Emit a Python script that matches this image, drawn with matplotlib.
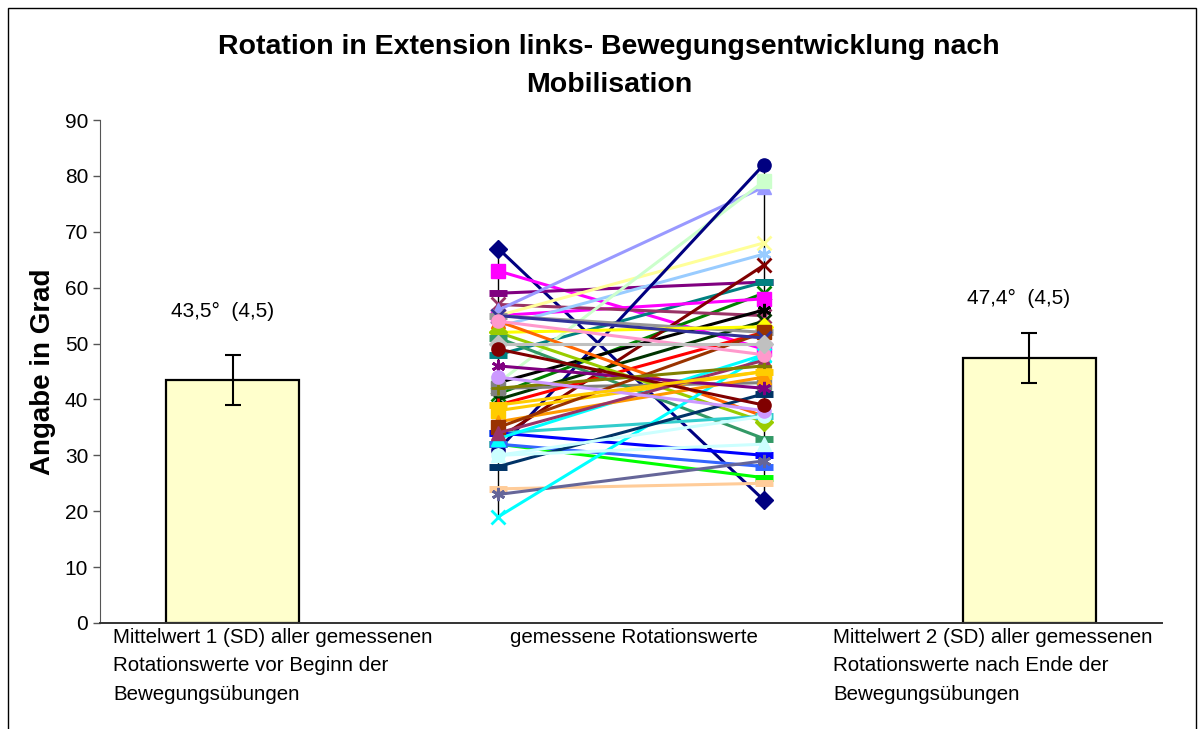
import matplotlib
matplotlib.use("Agg")
import matplotlib.pyplot as plt
from matplotlib.patches import Rectangle

plt.rcParams['font.family'] = ['Liberation Sans', 'DejaVu Sans']

# Mittelwerte (SD) vor / nach der Mobilisation
bar_pos = [0, 3]
means = [43.5, 47.4]
sds = [4.5, 4.5]
bar_texts = ["43,5°  (4,5)", "47,4°  (4,5)"]

# Einzelwerte: vorher (x=1) und nachher (x=2)
pre = [67, 63, 59, 48, 41, 55, 57, 56, 55, 53, 43, 31, 33, 43, 40,
       55, 42, 52, 39, 54, 52, 51, 34, 34, 32, 32, 24, 23, 19, 33,
       28, 30, 38, 36, 35, 46, 34, 42, 55, 54, 44, 50, 49, 39, 30]
post = [22, 49, 61, 61, 59, 58, 55, 78, 68, 66, 79, 82, 64, 56, 54,
        52, 43, 53, 52, 37, 36, 33, 37, 30, 26, 28, 25, 29, 48, 48,
        41, 37, 45, 44, 52, 42, 47, 46, 51, 48, 38, 50, 39, 45, 32]
colors = ['#000080', '#FF00FF', '#800080', '#008080', '#008000', '#FF00FF',
          '#993366', '#9999FF', '#FFFF99', '#99CCFF', '#CCFFCC', '#000080',
          '#800000', '#000000', '#003300', '#969696', '#808080', '#FFFF00',
          '#FF0000', '#FF6600', '#99CC00', '#339966', '#33CCCC', '#0000FF',
          '#00FF00', '#3366FF', '#FFCC99', '#666699', '#00FFFF', '#00FFFF',
          '#003366', '#CCFFFF', '#FFCC00', '#FF9900', '#993300', '#800080',
          '#993366', '#808000', '#333399', '#FF99CC', '#CC99FF', '#C0C0C0',
          '#800000', '#FFCC00', '#CCFFFF']
markers = ['D', 's', '_', '_', 'x', 's', 'x', '^', 'x', (6, 2, 0), 's', 'o',
           'x', (6, 2, 0), 'x', '_', 's', 'D', '+', '^', 'D', '_', '_', '_',
           '_', '_', '_', (6, 2, 0), 'x', '^', '_', 'o', 's', '^', 's',
           (6, 2, 0), '^', '+', 'x', 'o', 'o', 'D', 'o', '_', '^']

cat_labels = ["Mittelwert 1 (SD) aller gemessenen\nRotationswerte vor Beginn der\nBewegungsübungen",
              "gemessene Rotationswerte",
              "Mittelwert 2 (SD) aller gemessenen\nRotationswerte nach Ende der\nBewegungsübungen"]

fig = plt.figure(figsize=(12.04, 7.29), dpi=100)
ax = fig.add_axes([100 / 1204, 106 / 729, 1062 / 1204, 503 / 729])

# Balken mit Fehlerbalken
ax.bar(bar_pos, means, width=0.5, color='#FFFFCC', edgecolor='black', linewidth=1.6, zorder=2)
ax.errorbar(bar_pos, means, yerr=sds, fmt='none', ecolor='black', elinewidth=1.5,
            capsize=5.5, capthick=1.5, zorder=3)
for x, m, t, dy in zip(bar_pos, means, bar_texts, [12.3, 10.7]):
    ax.text(x - 0.04, m + dy, t, ha='center', va='center', fontsize=15)

# Hoch-Tief-Linien
ax.vlines([1, 2], [min(pre), min(post)], [max(pre), max(post)], colors='black', linewidth=1, zorder=1)

# Einzelverlaeufe
for a, b, c, mk in zip(pre, post, colors, markers):
    thin = mk in ('x', '+', (6, 2, 0))
    dash = mk == '_'
    ax.plot([1, 2], [a, b], color=c, linewidth=2.2, zorder=4,
            marker=mk, markersize=13 if dash else 9.5,
            markerfacecolor=c, markeredgecolor=c,
            markeredgewidth=5 if dash else (2 if thin else 1))

ax.set_xlim(-0.5, 3.5)
ax.set_ylim(0, 90)
ax.set_yticks(range(0, 91, 10))
ax.set_xticks([])
ax.tick_params(axis='y', labelsize=15, length=5, width=1, color='#555555')
for s in ['top', 'right']:
    ax.spines[s].set_visible(False)
ax.spines['left'].set_color('#555555')
ax.spines['bottom'].set_color('#333333')
ax.spines['bottom'].set_linewidth(1.4)

ax.set_ylabel("Angabe in Grad", fontsize=20, fontweight='bold', labelpad=6)

fig.text(609 / 1204, 1 - 66 / 729,
         "Rotation in Extension links- Bewegungsentwicklung nach\nMobilisation",
         ha='center', va='center', fontsize=20.5, fontweight='bold', linespacing=1.55)

for xp, t in zip([113, 510, 833], cat_labels):
    fig.text(xp / 1204, 1 - 628 / 729, t, ha='left', va='top', fontsize=14.8, linespacing=1.62)

fig.patches.append(Rectangle((8 / 1204, -0.05), 1188 / 1204, 1.05 - 8 / 729,
                             transform=fig.transFigure, fill=False, edgecolor='black', linewidth=1))

fig.savefig("out.png", dpi=100)
